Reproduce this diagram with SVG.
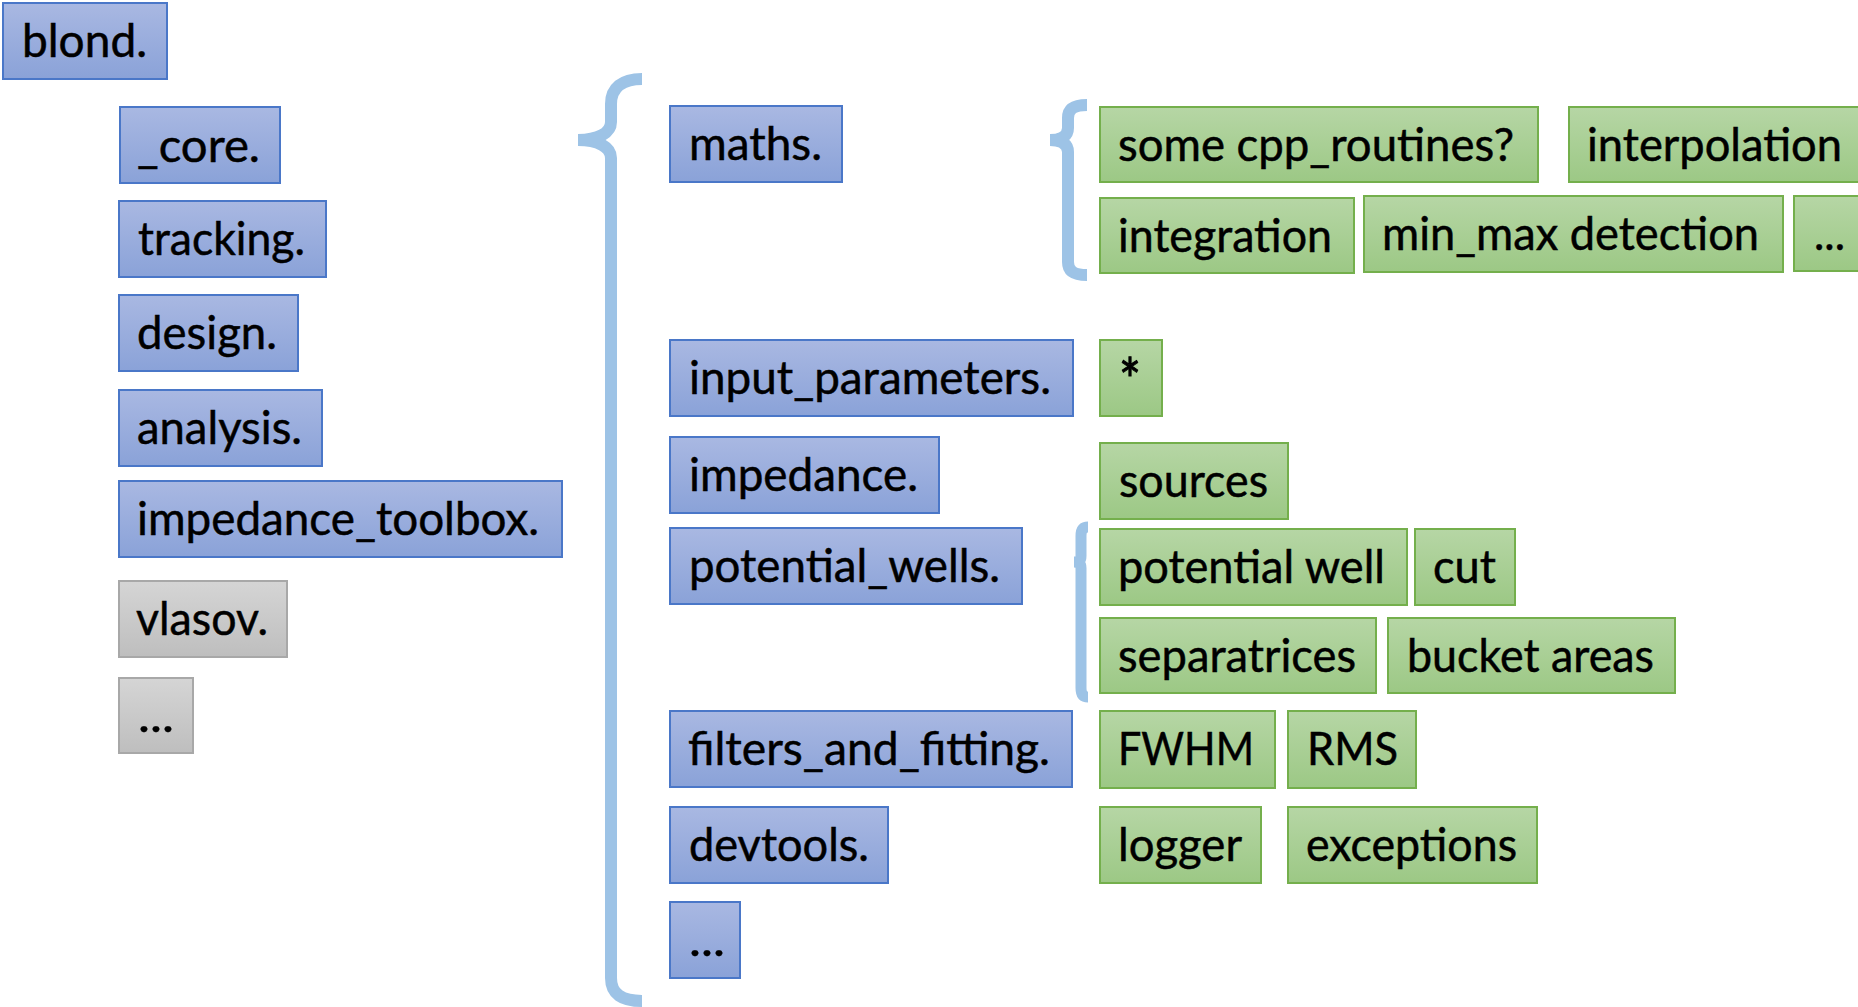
<svg xmlns="http://www.w3.org/2000/svg" width="1858" height="1007" viewBox="0 0 1858 1007">
<defs>
<linearGradient id="gb" x1="0" y1="0" x2="0" y2="1"><stop offset="0" stop-color="#A9B8E2"/><stop offset="1" stop-color="#8AA2D8"/></linearGradient>
<linearGradient id="gg" x1="0" y1="0" x2="0" y2="1"><stop offset="0" stop-color="#B6D6A5"/><stop offset="1" stop-color="#9CC885"/></linearGradient>
<linearGradient id="gy" x1="0" y1="0" x2="0" y2="1"><stop offset="0" stop-color="#D5D5D5"/><stop offset="1" stop-color="#BEBEBE"/></linearGradient>
</defs>
<style>
.b rect{fill:url(#gb);stroke:#4A77C8;stroke-width:2}
.g rect{fill:url(#gg);stroke:#74AF4C;stroke-width:2}
.y rect{fill:url(#gy);stroke:#A8A8A8;stroke-width:2}
text{font-family:Lato,"Open Sans","Liberation Sans",sans-serif;font-size:46px;fill:#000;stroke:#000;stroke-width:0.5}
.br{fill:none;stroke:#9DC3E6;stroke-width:12}
</style>
<rect width="1858" height="1007" fill="#fff"/>
<g id="connectors">
<path class="br" d="M642,79 C622,79 611,88 611,104 L611,122 C611,133 598,140 578,140 M578,140 C598,140 611,147 611,158 L611,978 C611,994 622,1001 642,1001"/>
<path class="br" d="M1087,105 C1074,105 1068,109 1068,118 L1068,128 C1068,136 1062,140 1050,140 M1050,140 C1062,140 1068,144 1068,152 L1068,262 C1068,271 1074,275 1087,275"/>
<path class="br" style="stroke-width:11" d="M1088,527 C1083,527 1081,530 1081,536 L1081,556 C1081,560 1079,562 1074,562 M1074,562 C1079,562 1081,564 1081,568 L1081,688 C1081,694 1083,697 1088,697"/>
</g>
<g id="n-blond" class="b"><rect x="3" y="3" width="164" height="76"/><text x="22" y="57" textLength="125" lengthAdjust="spacingAndGlyphs">blond.</text></g>
<g id="n-core" class="b"><rect x="120" y="107" width="160" height="76"/><text x="137" y="162" textLength="123" lengthAdjust="spacingAndGlyphs">_core.</text></g>
<g id="n-tracking" class="b"><rect x="119" y="201" width="207" height="76"/><text x="138" y="255" textLength="167" lengthAdjust="spacingAndGlyphs">tracking.</text></g>
<g id="n-design" class="b"><rect x="119" y="295" width="179" height="76"/><text x="137" y="349" textLength="140" lengthAdjust="spacingAndGlyphs">design.</text></g>
<g id="n-analysis" class="b"><rect x="119" y="390" width="203" height="76"/><text x="137" y="444" textLength="165" lengthAdjust="spacingAndGlyphs">analysis.</text></g>
<g id="n-impedance_toolbox" class="b"><rect x="119" y="481" width="443" height="76"/><text x="137" y="535" textLength="402" lengthAdjust="spacingAndGlyphs">impedance_toolbox.</text></g>
<g id="n-vlasov" class="y"><rect x="119" y="581" width="168" height="76"/><text x="136" y="635" textLength="132" lengthAdjust="spacingAndGlyphs">vlasov.</text></g>
<g id="n-etc1" class="y"><rect x="119" y="678" width="74" height="75"/><text x="138" y="732" textLength="36" lengthAdjust="spacingAndGlyphs">...</text></g>
<g id="n-maths" class="b"><rect x="670" y="106" width="172" height="76"/><text x="689" y="160" textLength="133" lengthAdjust="spacingAndGlyphs">maths.</text></g>
<g id="n-input_parameters" class="b"><rect x="670" y="340" width="403" height="76"/><text x="689" y="394" textLength="362" lengthAdjust="spacingAndGlyphs">input_parameters.</text></g>
<g id="n-impedance" class="b"><rect x="670" y="437" width="269" height="76"/><text x="689" y="491" textLength="229" lengthAdjust="spacingAndGlyphs">impedance.</text></g>
<g id="n-potential_wells" class="b"><rect x="670" y="528" width="352" height="76"/><text x="689" y="582" textLength="311" lengthAdjust="spacingAndGlyphs">potential_wells.</text></g>
<g id="n-filters_and_fitting" class="b"><rect x="670" y="711" width="402" height="76"/><text x="688" y="765" textLength="362" lengthAdjust="spacingAndGlyphs">filters_and_fitting.</text></g>
<g id="n-devtools" class="b"><rect x="670" y="807" width="218" height="76"/><text x="689" y="861" textLength="180" lengthAdjust="spacingAndGlyphs">devtools.</text></g>
<g id="n-etc2" class="b"><rect x="670" y="902" width="70" height="76"/><text x="689" y="956" textLength="36" lengthAdjust="spacingAndGlyphs">...</text></g>
<g id="n-cpp" class="g"><rect x="1100" y="107" width="438" height="75"/><text x="1118" y="161" textLength="396" lengthAdjust="spacingAndGlyphs">some cpp_routines?</text></g>
<g id="n-interpolation" class="g"><rect x="1569" y="107" width="300" height="75"/><text x="1587" y="161" textLength="255" lengthAdjust="spacingAndGlyphs">interpolation</text></g>
<g id="n-integration" class="g"><rect x="1100" y="198" width="254" height="75"/><text x="1118" y="252" textLength="214" lengthAdjust="spacingAndGlyphs">integration</text></g>
<g id="n-minmax" class="g"><rect x="1364" y="196" width="419" height="76"/><text x="1382" y="250" textLength="377" lengthAdjust="spacingAndGlyphs">min_max detection</text></g>
<g id="n-etc3" class="g"><rect x="1794" y="196" width="80" height="75"/><text x="1814" y="250" textLength="31" lengthAdjust="spacingAndGlyphs">...</text></g>
<g id="n-star" class="g"><rect x="1100" y="340" width="62" height="76"/><text x="1119" y="402" textLength="22" lengthAdjust="spacingAndGlyphs" style="font-size:60px;stroke-width:1">*</text></g>
<g id="n-sources" class="g"><rect x="1100" y="443" width="188" height="76"/><text x="1119" y="497" textLength="149" lengthAdjust="spacingAndGlyphs">sources</text></g>
<g id="n-potential_well" class="g"><rect x="1100" y="529" width="307" height="76"/><text x="1118" y="583" textLength="267" lengthAdjust="spacingAndGlyphs">potential well</text></g>
<g id="n-cut" class="g"><rect x="1415" y="529" width="100" height="76"/><text x="1433" y="583" textLength="63" lengthAdjust="spacingAndGlyphs">cut</text></g>
<g id="n-separatrices" class="g"><rect x="1100" y="618" width="276" height="75"/><text x="1118" y="672" textLength="238" lengthAdjust="spacingAndGlyphs">separatrices</text></g>
<g id="n-bucket_areas" class="g"><rect x="1388" y="618" width="287" height="75"/><text x="1407" y="672" textLength="247" lengthAdjust="spacingAndGlyphs">bucket areas</text></g>
<g id="n-fwhm" class="g"><rect x="1100" y="711" width="175" height="77"/><text x="1118" y="765" textLength="136" lengthAdjust="spacingAndGlyphs">FWHM</text></g>
<g id="n-rms" class="g"><rect x="1288" y="711" width="128" height="77"/><text x="1307" y="765" textLength="91" lengthAdjust="spacingAndGlyphs">RMS</text></g>
<g id="n-logger" class="g"><rect x="1100" y="807" width="161" height="76"/><text x="1118" y="861" textLength="124" lengthAdjust="spacingAndGlyphs">logger</text></g>
<g id="n-exceptions" class="g"><rect x="1288" y="807" width="249" height="76"/><text x="1306" y="861" textLength="211" lengthAdjust="spacingAndGlyphs">exceptions</text></g>
</svg>
